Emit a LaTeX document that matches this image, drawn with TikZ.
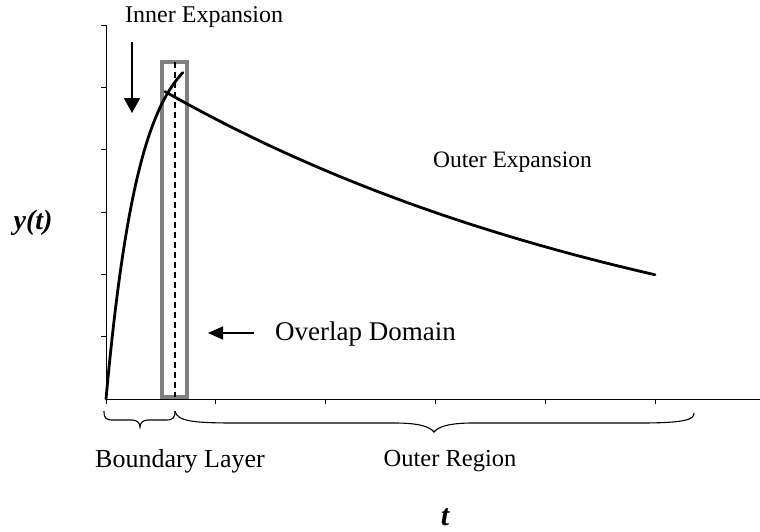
\documentclass[tikz,border=0pt]{standalone}
\usepackage{fontspec}
\setmainfont{Liberation Serif}
\usetikzlibrary{arrows.meta}
\tikzset{
  axisline/.style={line width=0.9pt, black},
  tickline/.style={line width=0.7pt, black},
  curveline/.style={line width=2.8pt, black, line cap=round, line join=round},
  overlapbox/.style={line width=4pt, draw={rgb,255:red,128;green,128;blue,128}},
  midline/.style={line width=1.4pt, dash pattern=on 6pt off 4pt},
  pointer/.style={line width=1.3pt, -{Triangle[width=16pt,length=15pt]}},
  bracepath/.style={line width=1.1pt, black},
  lbl/.style={inner sep=0pt, font=\fontsize{24}{28}\selectfont},
}
\begin{document}
\begin{tikzpicture}[x=1pt,y=-1pt]
\useasboundingbox (0,0) rectangle (760,531);
% axes
\coordinate (O) at (106,399);
\coordinate (ytop) at (106,25);
\coordinate (xend) at (760,399);
\draw[axisline] (ytop) -- (O) -- (xend);
\foreach \k in {0,...,5} {
  \draw[tickline] (101,{25+62.33*\k}) -- (106,{25+62.33*\k});
  \draw[tickline] ({106+109.8*\k},399) -- ({106+109.8*\k},404);
}
% overlap domain box and its centre line
\draw[overlapbox] (162,62) rectangle (187,397);
\coordinate (dtop) at (175,62);
\coordinate (dbot) at (175,397);
\draw[midline] (dtop) -- (dbot);
% inner solution
\draw[curveline] plot[domain=0:0.7, samples=50]
  ({106+109.8*\x}, {399-62.33*5.8*(1-exp(-\x/0.3))});
% outer solution
\draw[curveline] plot[domain=0.537:5, samples=60]
  ({106+109.8*\x}, {399-62.33*5.5*exp(-0.203*\x)});
% labels
\node[lbl, anchor=base west] (inner) at (125,22) {Inner Expansion};
\node[lbl, anchor=base west, font=\fontsize{23.5}{28}\selectfont] (outer) at (433,167) {Outer Expansion};
\node[lbl, anchor=west, font=\fontsize{27}{32}\selectfont] (overlap) at (275,334) {Overlap Domain};
\node[lbl, font=\fontsize{26}{30}\selectfont] (blayer) at (180,461) {Boundary Layer};
\node[lbl, font=\fontsize{24.5}{29}\selectfont] (oregion) at (450,461) {Outer Region};
\node[lbl, font=\fontsize{28}{32}\selectfont\bfseries\itshape] (ylab) at (33,223) {y(t)};
\node[lbl, font=\fontsize{30}{34}\selectfont\bfseries\itshape] (tlab) at (445,517) {t};
% pointers
\coordinate (ia) at (132,42);
\coordinate (ib) at (132,113);
\draw[pointer] (ia) -- (ib);
\coordinate (oa) at (254,333);
\coordinate (ob) at (208,333);
\draw[pointer, -{Triangle[width=13pt,length=15pt]}] (oa) -- (ob);
% braces
\draw[bracepath] (104,411) .. controls (104,419) and (106,420) .. (114,420)
  -- (132,420) .. controls (137,420) and (140,423) .. (140,427)
  .. controls (140,423) and (143,420) .. (148,420)
  -- (166,420) .. controls (173,420) and (175,418) .. (175,411);
\draw[bracepath] (175,411) .. controls (177,421) and (192,423) .. (235,423)
  -- (395,423) .. controls (420,423) and (430,427) .. (434,432)
  .. controls (438,427) and (448,423) .. (473,423)
  -- (640,423) .. controls (688,423) and (694,419) .. (694,413);
\end{tikzpicture}
\end{document}
